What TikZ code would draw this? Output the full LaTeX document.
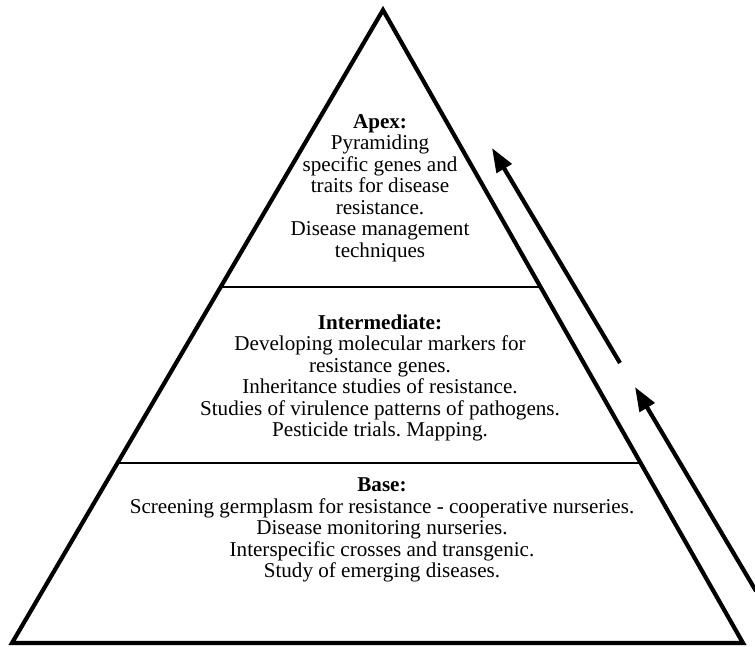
\documentclass[tikz,border=0pt]{standalone}
\usepackage{fontspec}
\setmainfont{Liberation Serif}
\usetikzlibrary{calc, arrows.meta}
\frenchspacing

\begin{document}
\begin{tikzpicture}[x=1pt, y=-1pt,
		level/.style = {align = center, font = \fontsize{21.1}{21.5}\selectfont},
		divider/.style = {line width = 2pt},
		rise/.style = {line width = 4.2pt, -{Triangle[length = 24pt, width = 17pt]}}]
		\useasboundingbox (0,0) rectangle (755,646);
		
		%corners of the pyramid
		\coordinate (BL) at (12,643);
		\coordinate (BR) at (743,643);
		\coordinate (T) at (383,10);
		
		\draw [line width = 4.2pt, line join = miter] (BL) -- (T) -- (BR) -- cycle;
		
		%levels
		\draw [divider] ($(BL)!{356/633}!(T)$) -- ($(BR)!{356/633}!(T)$);
		\draw [divider] ($(BL)!{180/633}!(T)$) -- ($(BR)!{180/633}!(T)$);
		
		\node [level] (apex) at (380,188) {\textbf{Apex:}\\ Pyramiding\\ specific genes and\\ traits for disease\\ resistance.\\ Disease management\\ techniques};
		\node [level] (mid) at (380,378) {\textbf{Intermediate:}\\ Developing molecular markers for\\ resistance genes.\\ Inheritance studies of resistance.\\ Studies of virulence patterns of pathogens.\\ Pesticide trials. Mapping.};
		\node [level] (base) at (382,530) {\textbf{Base:}\\ Screening germplasm for resistance - cooperative nurseries.\\ Disease monitoring nurseries.\\ Interspecific crosses and transgenic.\\ Study of emerging diseases.};
		
		%arrows
		\coordinate (a1) at (620,363);
		\coordinate (a1tip) at (492,148);
		\coordinate (a2) at (756,591);
		\coordinate (a2tip) at (635,387);
		
		\draw [rise] (a1) -- (a1tip);
		\draw [rise] (a2) -- (a2tip);
	\end{tikzpicture}
\end{document}
